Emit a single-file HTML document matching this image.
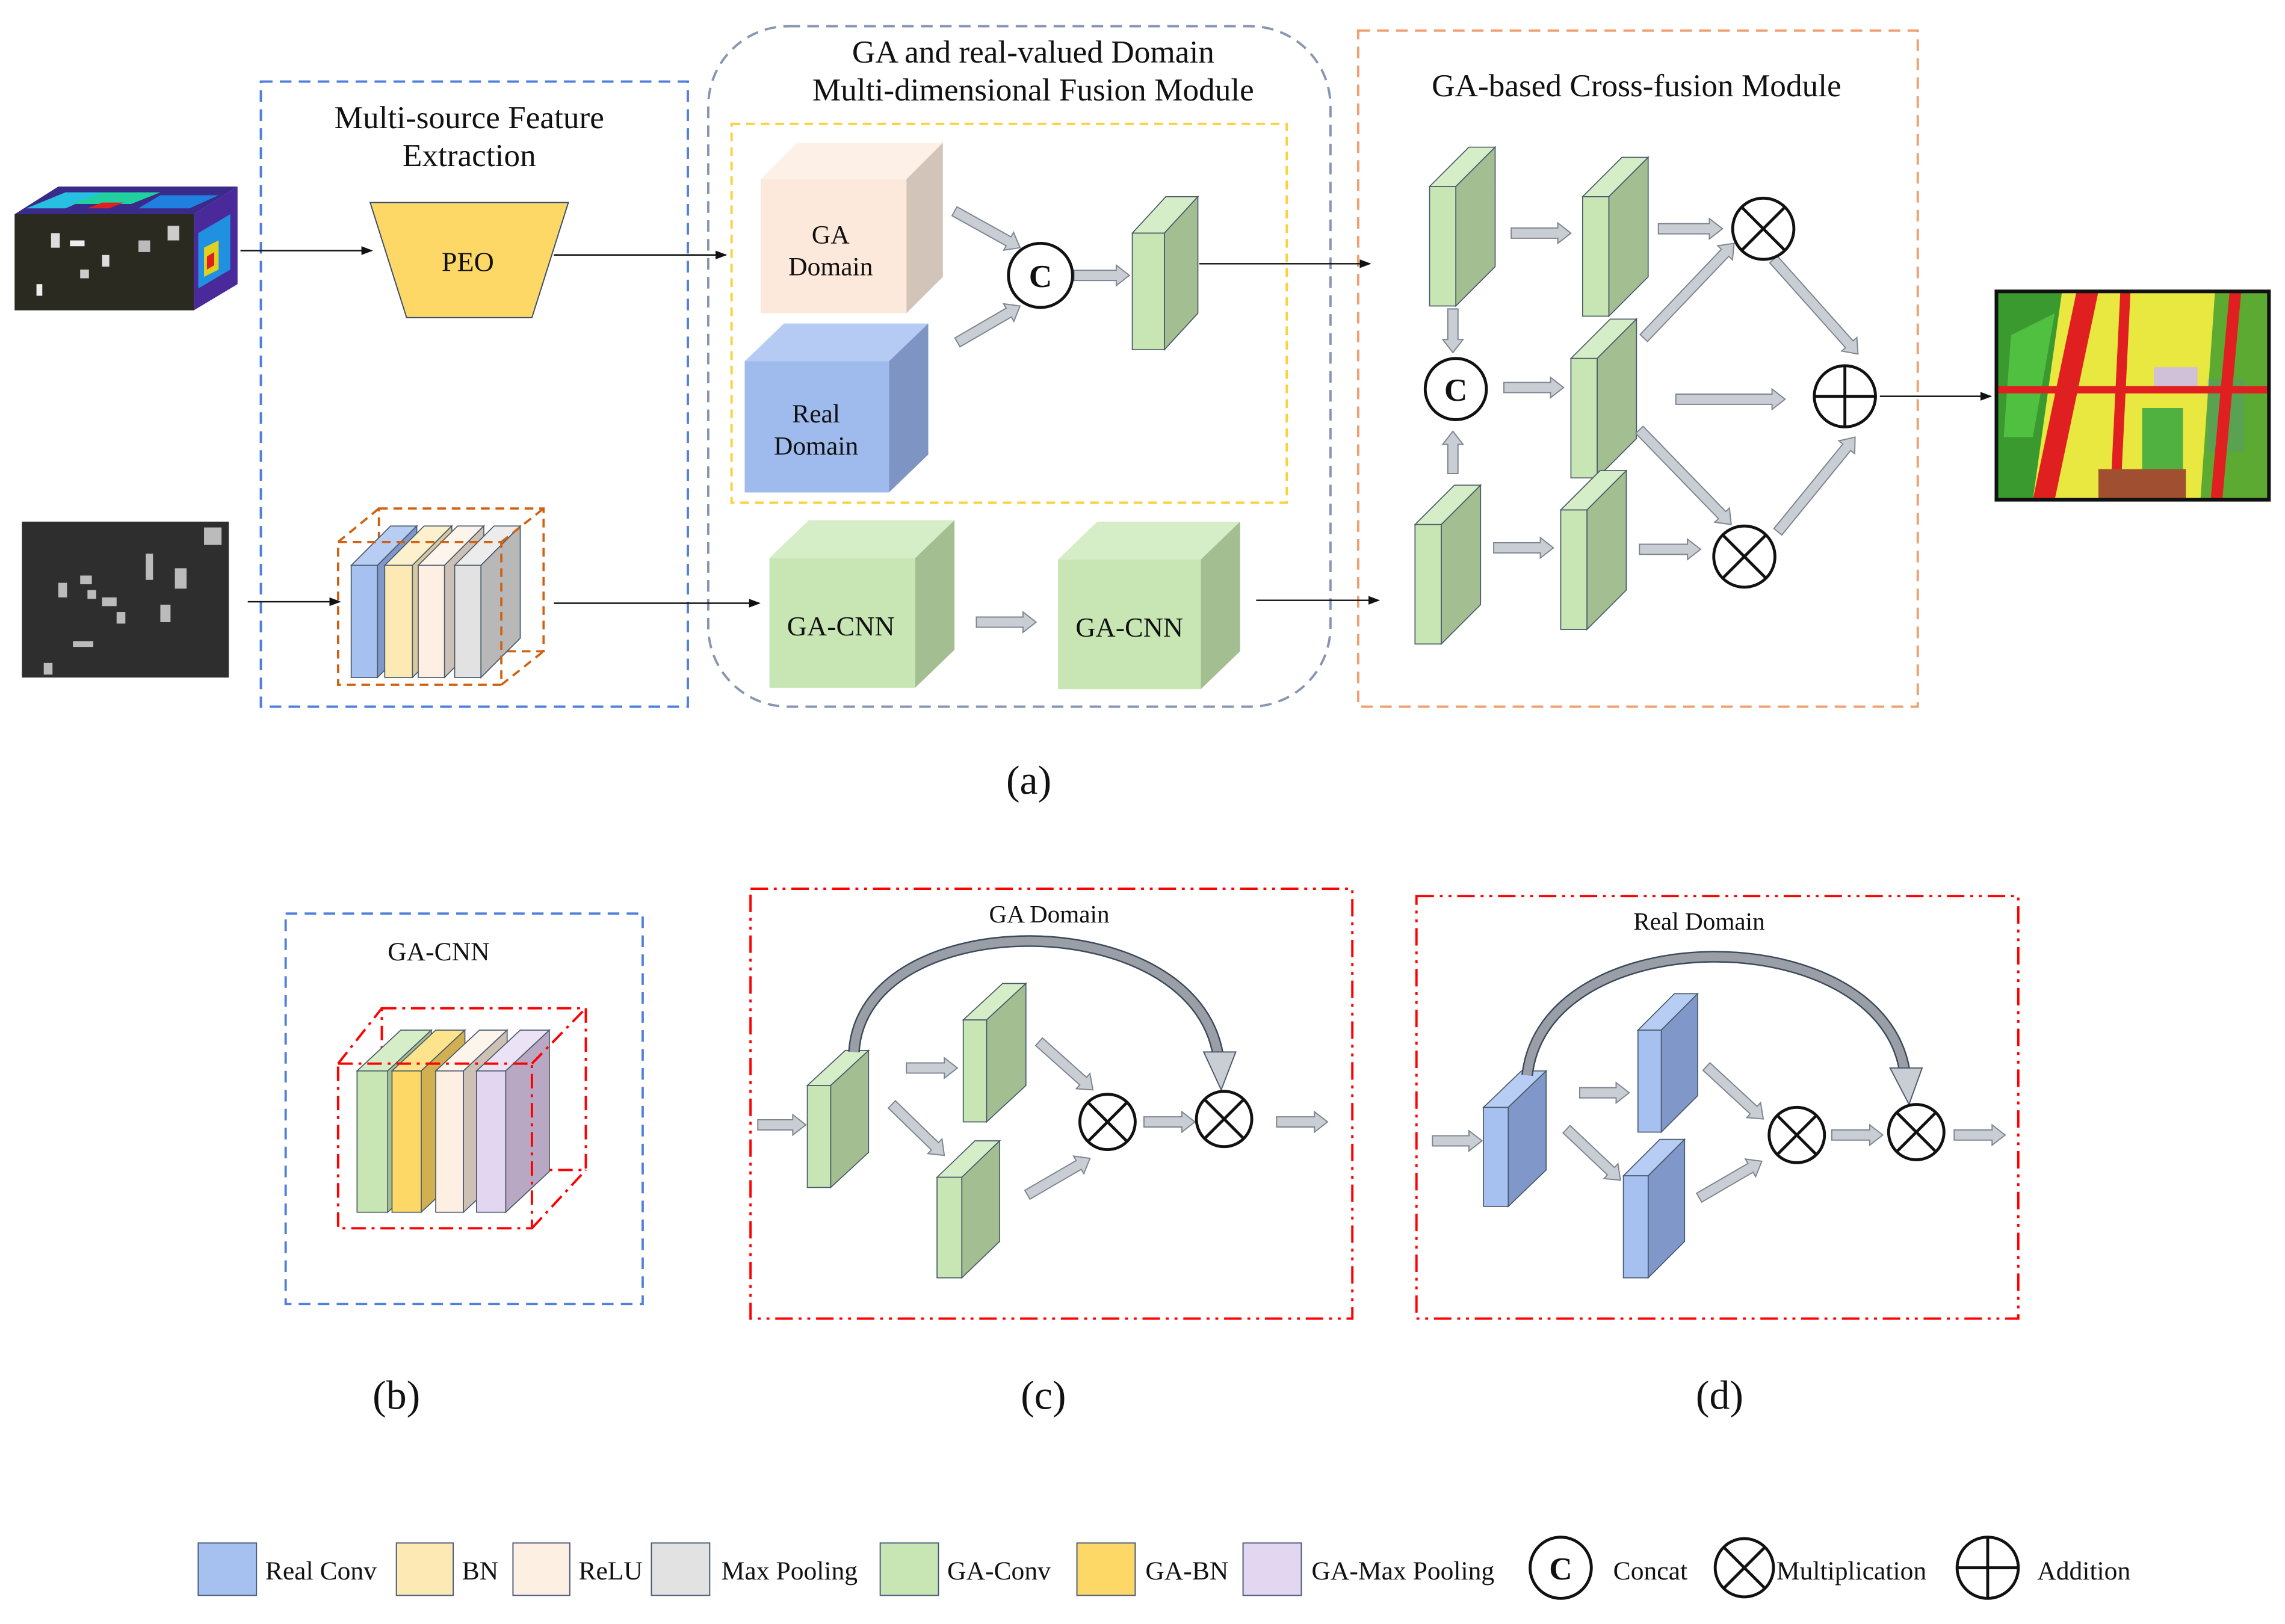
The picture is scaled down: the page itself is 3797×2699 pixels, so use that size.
<!DOCTYPE html>
<html><head><meta charset="utf-8"><style>
html,body{margin:0;padding:0;background:#fff;}
svg{display:block;}
text{font-family:"Liberation Serif",serif;fill:#111;}
</style></head><body>
<svg id="s" xmlns="http://www.w3.org/2000/svg" width="3797" height="2699" viewBox="0 0 1568 1114.6">
<rect x="0" y="0" width="1568" height="1114.6" fill="#fff"/>
<defs>
<marker id="ah" markerWidth="8" markerHeight="8" refX="7" refY="4" orient="auto" markerUnits="userSpaceOnUse"><path d="M0,1 L8,4 L0,7 z" fill="#111"/></marker>
</defs>
<!-- module boxes -->
<rect x="179" y="56" width="293" height="429" fill="none" stroke="#4f7fdc" stroke-width="1.6" stroke-dasharray="8,5"/>
<rect x="486" y="18" width="427" height="467" rx="55" fill="none" stroke="#8795b3" stroke-width="1.6" stroke-dasharray="8,5"/>
<rect x="502" y="85" width="381" height="260" fill="none" stroke="#fdd13c" stroke-width="1.6" stroke-dasharray="6,4"/>
<rect x="932" y="21" width="384" height="464" fill="none" stroke="#f0a070" stroke-width="1.6" stroke-dasharray="8,5"/>
<rect x="196" y="627" width="245" height="268" fill="none" stroke="#4f7fdc" stroke-width="1.6" stroke-dasharray="8,5"/>
<rect x="515" y="610" width="413" height="295" fill="none" stroke="#f00" stroke-width="1.6" stroke-dasharray="12,4,2,4,2,4"/>
<rect x="972" y="615" width="413" height="290" fill="none" stroke="#f00" stroke-width="1.6" stroke-dasharray="12,4,2,4,2,4"/>

<!-- images -->
<g id="hsi">
<polygon points="10,147 40,128 163,128 133,147" fill="#3a2a8a"/>
<polygon points="18,143 45,132 70,132 45,143" fill="#28c0e0"/>
<polygon points="50,140 70,132 110,132 90,140" fill="#20d0a0"/>
<polygon points="60,143 70,139 85,139 75,143" fill="#e02020"/>
<polygon points="95,143 110,134 150,134 130,143" fill="#2080e0"/>
<polygon points="133,147 163,128 163,195 133,213" fill="#4a2a9a"/>
<polygon points="136,160 158,147 158,185 136,198" fill="#2090e0"/>
<polygon points="140,170 150,165 150,185 140,190" fill="#e0d020"/>
<polygon points="142,176 147,173 147,182 142,185" fill="#e02020"/>
<rect x="10" y="147" width="123" height="66" fill="#2b2a20"/>
<rect x="35" y="160" width="6" height="10" fill="#ddd"/><rect x="48" y="165" width="10" height="4" fill="#eee"/>
<rect x="55" y="185" width="6" height="6" fill="#ccc"/><rect x="95" y="165" width="8" height="8" fill="#bbb"/>
<rect x="115" y="155" width="8" height="10" fill="#ccc"/><rect x="70" y="175" width="5" height="8" fill="#ddd"/>
<rect x="25" y="195" width="4" height="8" fill="#eee"/>
</g>
<rect x="15" y="358" width="142" height="107" fill="#2e2e2e"/>
<g fill="#bbb"><rect x="40" y="400" width="6" height="10"/><rect x="55" y="395" width="8" height="6"/><rect x="70" y="410" width="10" height="6"/><rect x="80" y="420" width="6" height="8"/><rect x="120" y="390" width="8" height="14"/><rect x="140" y="362" width="12" height="12"/><rect x="50" y="440" width="14" height="4"/><rect x="100" y="380" width="5" height="18"/><rect x="30" y="455" width="6" height="8"/><rect x="60" y="405" width="6" height="6"/><rect x="110" y="415" width="7" height="12"/></g>
<g id="map">
<rect x="1370" y="200" width="187" height="143" fill="#e8e840"/>
<polygon points="1370,200 1415,200 1395,343 1370,343" fill="#3a9a30"/>
<polygon points="1380,230 1410,215 1395,300 1375,300" fill="#50c040"/>
<rect x="1470" y="280" width="28" height="45" fill="#50b040"/>
<rect x="1478" y="252" width="30" height="16" fill="#d0c0d8"/>
<rect x="1515" y="260" width="25" height="50" fill="#d0c0d8"/>
<polygon points="1520,200 1557,200 1557,343 1510,343" fill="#3a9a30" opacity="0.8"/>
<polygon points="1425,200 1440,200 1410,343 1395,343" fill="#e02020"/>
<polygon points="1455,200 1462,200 1455,343 1448,343" fill="#e02020"/>
<polygon points="1530,200 1538,200 1525,343 1517,343" fill="#e02020"/>
<rect x="1370" y="265" width="187" height="5" fill="#e02020"/>
<rect x="1440" y="322" width="60" height="20" fill="#a05030"/>
<rect x="1370" y="200" width="187" height="143" fill="none" stroke="#111" stroke-width="2.5"/>
</g>

<!-- PEO -->
<polygon points="254,139 390,139 365,218 279,218" fill="#fdd866" stroke="#3a4a6a" stroke-width="0.8"/>
<text x="321" y="186" font-size="19" text-anchor="middle">PEO</text>

<g id="shapes"></g>

<!-- thin arrows -->
<g stroke="#111" stroke-width="1" marker-end="url(#ah)">
<line x1="165" y1="172" x2="255" y2="172"/>
<line x1="380" y1="175" x2="498" y2="175"/>
<line x1="823" y1="181" x2="940" y2="181"/>
<line x1="1290" y1="272" x2="1366" y2="272"/>
<line x1="170" y1="413" x2="233" y2="413"/>
<line x1="380" y1="414" x2="521" y2="414"/>
<line x1="862" y1="412" x2="946" y2="412"/>
</g>

<!-- circles -->
<g fill="#fff" stroke="#111" stroke-width="2">
<circle cx="714" cy="189" r="22"/><circle cx="999" cy="267" r="21"/>
<circle cx="1210" cy="157" r="21"/><circle cx="1197" cy="382" r="21"/><circle cx="1266" cy="272" r="21"/>
<circle cx="760" cy="770" r="19"/><circle cx="840" cy="768" r="19"/>
<circle cx="1233" cy="779" r="19"/><circle cx="1315" cy="777" r="19"/>
<circle cx="1071" cy="1076" r="21"/><circle cx="1197" cy="1076" r="20"/><circle cx="1364" cy="1076" r="21"/>
</g>
<g stroke="#111" stroke-width="2" id="crosses"></g>
<g font-size="22" font-weight="bold" text-anchor="middle">
<text x="714" y="197" font-family="Liberation Sans">C</text>
<text x="999" y="275" font-family="Liberation Sans">C</text>
<text x="1071" y="1084" font-family="Liberation Sans">C</text>
</g>

<!-- labels -->
<g font-size="22" text-anchor="middle">
<text x="322" y="88">Multi-source Feature</text>
<text x="322" y="114">Extraction</text>
<text x="709" y="43">GA and real-valued Domain</text>
<text x="709" y="69">Multi-dimensional Fusion Module</text>
<text x="1123" y="66">GA-based Cross-fusion Module</text>
</g>
<g font-size="18" text-anchor="middle">
<text x="570" y="167">GA</text><text x="570" y="189">Domain</text>
<text x="560" y="290">Real</text><text x="560" y="312">Domain</text>
<text x="577" y="436" font-size="19">GA-CNN</text>
<text x="775" y="437" font-size="19">GA-CNN</text>
<text x="301" y="659" font-size="18">GA-CNN</text>
<text x="720" y="633" font-size="17">GA Domain</text>
<text x="1166" y="638" font-size="17">Real Domain</text>
</g>
<g font-size="28" text-anchor="middle">
<text x="706" y="545">(a)</text><text x="272" y="967">(b)</text><text x="716" y="967">(c)</text><text x="1180" y="967">(d)</text>
</g>
<!-- legend -->
<g stroke="#4a5a7a" stroke-width="0.8">
<rect x="136" y="1059" width="40" height="36" fill="#a6c0ef"/>
<rect x="272" y="1059" width="39" height="36" fill="#fde9b4"/>
<rect x="352" y="1059" width="39" height="36" fill="#fdf0e3"/>
<rect x="447" y="1059" width="40" height="36" fill="#e2e2e2"/>
<rect x="604" y="1059" width="40" height="36" fill="#c8e6b4"/>
<rect x="739" y="1059" width="40" height="36" fill="#fdd866"/>
<rect x="853" y="1059" width="40" height="36" fill="#e3d6f0"/>
</g>
<g font-size="18">
<text x="182" y="1084">Real Conv</text><text x="317" y="1084">BN</text><text x="397" y="1084">ReLU</text>
<text x="495" y="1084">Max Pooling</text><text x="650" y="1084">GA-Conv</text><text x="786" y="1084">GA-BN</text>
<text x="900" y="1084">GA-Max Pooling</text><text x="1107" y="1084">Concat</text>
<text x="1219" y="1084">Multiplication</text><text x="1398" y="1084">Addition</text>
</g>
</svg>
<script>
var NS="http://www.w3.org/2000/svg",G=document.getElementById("shapes");
function el(t,a,p){var e=document.createElementNS(NS,t);for(var k in a)e.setAttribute(k,a[k]);(p||G).appendChild(e);return e;}
function poly(pts,f,s,w){return el("polygon",{points:pts.map(function(p){return p.join(",")}).join(" "),fill:f,stroke:s||"#4a5a6a","stroke-width":w||0.7});}
var C={g:["#c8e6b4","#d6eec8","#a3bf92"],b:["#a6c0ef","#b8cdf3","#7f97c9"],y:["#fde9b4","#fdf0cc","#d8c8a0"],yy:["#fdd866","#fde48c","#d0b050"],p:["#fdf0e3","#fdf5ec","#cdc1b6"],gr:["#e2e2e2","#ececec","#b8b8b8"],l:["#e3d6f0","#ece2f5","#b8a8c4"],ga:["#fde9dc","#fdf0e6","#d3c4ba"],rd:["#9fbbee","#b5cbf3","#7e95c4"]};
function slab(x,y,w,h,d,e,c,nostroke){var s=nostroke?"none":"#4a5a6a";
poly([[x,y],[x+d,y-e],[x+w+d,y-e],[x+w,y]],c[1],s);
poly([[x+w,y],[x+w+d,y-e],[x+w+d,y+h-e],[x+w,y+h]],c[2],s);
el("rect",{x:x,y:y,width:w,height:h,fill:c[0],stroke:s,"stroke-width":0.7});}
function barrow(x1,y1,x2,y2,hw,hh,hl){hw=hw||3.5;hh=hh||7;hl=hl||9;
var dx=x2-x1,dy=y2-y1,L=Math.hypot(dx,dy),ux=dx/L,uy=dy/L,nx=-uy,ny=ux,bx=x2-ux*hl,by=y2-uy*hl;
poly([[x1+nx*hw,y1+ny*hw],[bx+nx*hw,by+ny*hw],[bx+nx*hh,by+ny*hh],[x2,y2],[bx-nx*hh,by-ny*hh],[bx-nx*hw,by-ny*hw],[x1-nx*hw,y1-ny*hw]],"#c9cdd4","#7d8590",0.8);}
slab(522,123,100,92,25,25,C.ga,true);
slab(511,248,99,90,27,26,C.rd,true);
slab(528,383,100,89,27,26,C.g,true);
slab(726,384,98,89,27,26,C.g,true);
slab(777,160,22,80,23,25,C.g);
[[981,128],[1086,135],[1078,246],[971,360],[1071,350]].forEach(function(p){slab(p[0],p[1],18,82,27,27,C.g);});
var oc={fill:"none",stroke:"#d06010","stroke-width":1.5,"stroke-dasharray":"6,4"};
el("rect",Object.assign({x:260,y:349,width:113,height:98},oc));
slab(241,388,18,77,27,27,C.b);slab(264,388,19,77,27,27,C.y);slab(287,388,18,77,27,27,C.p);slab(312,388,18,77,27,27,C.gr);
el("rect",Object.assign({x:232,y:372,width:112,height:98},oc));
[[232,372,260,349],[344,372,373,349],[344,470,373,447]].forEach(function(a){el("line",Object.assign({x1:a[0],y1:a[1],x2:a[2],y2:a[3]},oc));});
var rc={fill:"none",stroke:"#f00","stroke-width":1.6,"stroke-dasharray":"10,4,2,4"};
el("rect",Object.assign({x:262,y:692,width:140,height:111},rc));
slab(245,735,21,97,30,28,C.g);slab(269,735,20,97,30,28,C.yy);slab(299,735,19,97,30,28,C.p);slab(327,735,20,97,30,28,C.l);
el("rect",Object.assign({x:232,y:730,width:133,height:113},rc));
[[232,730,262,692],[365,730,402,692],[365,843,402,803]].forEach(function(a){el("line",Object.assign({x1:a[0],y1:a[1],x2:a[2],y2:a[3]},rc));});
slab(554,745,16,70,26,24,C.g);slab(661,700,16,70,27,25,C.g);slab(643,808,17,69,26,25,C.g);
slab(1018,760,17,68,26,25,C.b);slab(1124,707,16,70,25,25,C.b);slab(1114,807,17,70,25,25,C.b);
function arc(x1,y1,cx1,cy1,cx2,cy2,x2,y2){
el("path",{d:"M"+x1+","+y1+" C"+cx1+","+cy1+" "+cx2+","+cy2+" "+x2+","+y2,fill:"none",stroke:"#3a4a5a","stroke-width":8});
el("path",{d:"M"+x1+","+y1+" C"+cx1+","+cy1+" "+cx2+","+cy2+" "+x2+","+y2,fill:"none",stroke:"#9a9ea6","stroke-width":6});
}
arc(586,722,592,620,820,620,836,725);
poly([[826,722],[848,722],[838,748]],"#c9cdd4","#4a5a6a",0.8);
arc(1048,738,1060,630,1290,630,1307,735);
poly([[1297,733],[1319,733],[1310,758]],"#c9cdd4","#4a5a6a",0.8);
[[655,145,700,170],[657,235,700,210],[737,189,775,189],[670,427,711,427],
[1037,160,1078,160],[1138,157,1182,157],[997,212,997,242],[997,325,997,296],[1032,266,1073,266],[1150,274,1225,274],[1025,376,1066,376],[1125,377,1167,377],
[1128,232,1190,167],[1125,295,1188,360],[1217,178,1275,243],[1220,365,1273,300],
[520,772,553,772],[622,733,657,733],[612,758,648,793],[713,715,750,748],[705,820,748,795],[785,770,820,770],[876,770,911,770],
[983,783,1017,783],[1084,750,1118,750],[1075,775,1112,810],[1171,732,1210,768],[1166,822,1209,797],[1257,779,1292,779],[1341,779,1376,779]
].forEach(function(a){barrow(a[0],a[1],a[2],a[3]);});
var X=document.getElementById("crosses");
[[1210,157,21],[1197,382,21],[760,770,19],[840,768,19],[1233,779,19],[1315,777,19],[1197,1076,20]].forEach(function(c){var r=c[2]*0.707;
el("line",{x1:c[0]-r,y1:c[1]-r,x2:c[0]+r,y2:c[1]+r},X);el("line",{x1:c[0]-r,y1:c[1]+r,x2:c[0]+r,y2:c[1]-r},X);});
[[1266,272,21],[1364,1076,21]].forEach(function(c){el("line",{x1:c[0]-c[2],y1:c[1],x2:c[0]+c[2],y2:c[1]},X);el("line",{x1:c[0],y1:c[1]-c[2],x2:c[0],y2:c[1]+c[2]},X);});
</script>
</body></html>
